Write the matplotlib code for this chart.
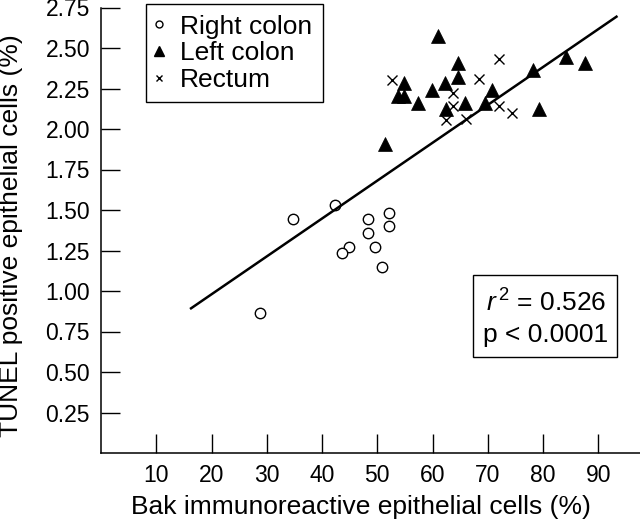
import matplotlib
matplotlib.use("Agg")
import matplotlib.pyplot as plt
from matplotlib.lines import Line2D
from matplotlib.patches import Rectangle
import numpy as np

plt.rcParams["font.family"] = ["Liberation Sans", "DejaVu Sans"]
plt.rcParams["mathtext.fontset"] = "custom"
plt.rcParams["mathtext.rm"] = "Liberation Sans"
plt.rcParams["mathtext.it"] = "Liberation Sans:italic"

# values
right_x = [28.8, 34.8, 42.3, 48.4, 52.1, 52.1, 48.4, 44.8, 43.6, 49.6, 50.9]
right_y = [0.864, 1.443, 1.529, 1.443, 1.483, 1.401, 1.356, 1.273, 1.233, 1.273, 1.150]

left_x = [61.0, 64.7, 64.7, 54.9, 53.8, 54.9, 57.4, 59.9, 62.3,
          62.4, 65.9, 69.5, 70.8, 78.1, 84.1, 87.6, 79.3, 51.4]
left_y = [2.574, 2.406, 2.323, 2.282, 2.204, 2.204, 2.159, 2.241, 2.286,
          2.122, 2.159, 2.159, 2.241, 2.364, 2.443, 2.406, 2.122, 1.907]

rectum_x = [52.6, 72.1, 68.4, 63.7, 63.7, 62.4, 66.1, 72.1, 74.4]
rectum_y = [2.302, 2.430, 2.307, 2.224, 2.142, 2.056, 2.060, 2.142, 2.097]

fit_slope = 0.02338
fit_intercept = 0.512
fit_x = [16.3, 93.3]

x_ticks = [10, 20, 30, 40, 50, 60, 70, 80, 90]
y_ticks = [0.25, 0.50, 0.75, 1.00, 1.25, 1.50, 1.75, 2.00, 2.25, 2.50, 2.75]

series_labels = ["Right colon", "Left colon", "Rectum"]
r2_text = r"$\mathit{r}^{\,2}$ = 0.526"
p_text = "p < 0.0001"

W, H = 640, 524
fig = plt.figure(figsize=(W / 100, H / 100), dpi=100)
ax = fig.add_axes([101 / W, 1 - 453 / H, 539 / W, 445.5 / H])

ax.plot(right_x, right_y, ls="none", marker="o", ms=7.5, mfc="white",
        mec="black", mew=1.0)
ax.plot(left_x, left_y, ls="none", marker="^", ms=10, mfc="black",
        mec="black", mew=0.5)
ax.plot(rectum_x, rectum_y, ls="none", marker="x", ms=7.5, color="black",
        mew=1.0)

fx = np.array(fit_x)
ax.plot(fx, fit_intercept + fit_slope * fx, color="black", lw=1.8)

ax.set_xlim(0, 539 / 5.525)
ax.set_ylim(0, 2.75)
ax.set_xticks(x_ticks)
ax.set_yticks(y_ticks)
ax.set_yticklabels([f"{v:.2f}" for v in y_ticks])
ax.tick_params(direction="in", length=14, width=1.0, labelsize=16.5, pad=8)
for side in ["top", "right"]:
    ax.spines[side].set_visible(False)
for side in ["left", "bottom"]:
    ax.spines[side].set_linewidth(1.1)

ax.set_xlabel("Bak immunoreactive epithelial cells (%)", fontsize=19)
ax.set_ylabel("TUNEL positive epithelial cells (%)", fontsize=19)
ax.xaxis.set_label_coords(0.483, -0.095)
ax.yaxis.set_label_coords(-0.144, 0.487)

handles = [
    Line2D([], [], ls="none", marker="o", ms=5, mfc="white", mec="black", mew=1.0),
    Line2D([], [], ls="none", marker="^", ms=7.5, mfc="black", mec="black"),
    Line2D([], [], ls="none", marker="x", ms=5, color="black", mew=1.0),
]
leg = ax.legend(handles, series_labels, loc="upper left",
                bbox_to_anchor=(146 / W, 1 - 4 / H), bbox_transform=fig.transFigure,
                frameon=True, fancybox=False, edgecolor="black", framealpha=1,
                borderaxespad=0, borderpad=0.4, labelspacing=0.1,
                handlelength=0.2, handletextpad=0.7, fontsize=19)
leg.get_frame().set_linewidth(1.0)

ax.add_patch(Rectangle((0.6907, 0.2162), 0.9568 - 0.6907, 0.3996 - 0.2162,
                       transform=ax.transAxes, fill=False, ec="black", lw=1.0,
                       clip_on=False))
ax.text(0.825, 0.3367, r2_text, transform=ax.transAxes, ha="center",
        va="center", fontsize=19)
ax.text(0.825, 0.2649, p_text, transform=ax.transAxes, ha="center",
        va="center", fontsize=19)

fig.savefig("out.png", dpi=100)
